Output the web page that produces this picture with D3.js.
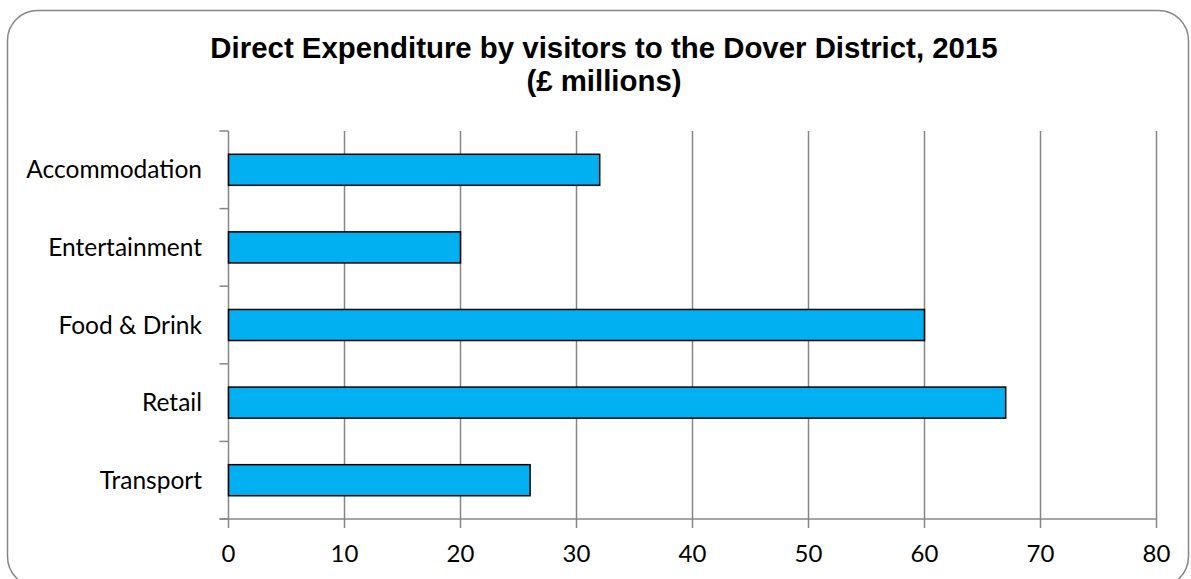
<!DOCTYPE html>
<html>
<head>
<meta charset="utf-8">
<script src="https://cdn.jsdelivr.net/npm/d3@7"></script>
<style>
  body { margin: 0; background: #fff; }
  svg { display: block; }
</style>
</head>
<body>
<div id="chart"></div>
<script>
// Direct Expenditure by visitors - horizontal bar chart
const categories = ["Accommodation", "Entertainment", "Food & Drink", "Retail", "Transport"];
const values = [32, 20, 60, 67, 26];
const xTicks = [0, 10, 20, 30, 40, 50, 60, 70, 80];
const titleLines = ["Direct Expenditure by visitors to the Dover District, 2015", "(£ millions)"];

const width = 1191;
const height = 579;
const margin = { top: 131, right: 34.5, bottom: 60, left: 228.5 };

const svg = d3.select("#chart")
  .append("svg")
  .attr("width", width)
  .attr("height", height);

// chart frame
svg.append("rect")
  .attr("x", 7.5)
  .attr("y", 10.5)
  .attr("width", 1181)
  .attr("height", 576)
  .attr("rx", 30)
  .attr("fill", "#fff")
  .attr("stroke", "#868686")
  .attr("stroke-width", 1.5);

svg.selectAll("text.title")
  .data(titleLines)
  .enter()
  .append("text")
  .attr("class", "title")
  .attr("x", 604)
  .attr("y", (d, i) => 58 + i * 33)
  .attr("text-anchor", "middle")
  .style("font-family", "Arial, 'Liberation Sans', sans-serif")
  .style("font-weight", "bold")
  .style("font-size", "29.4px")
  .text(d => d);

const x = d3.scaleLinear()
  .domain([0, 80])
  .range([margin.left, width - margin.right]);

const y = d3.scaleBand()
  .domain(categories)
  .range([margin.top, height - margin.bottom])
  .paddingInner(0.6)
  .paddingOuter(0.3);

const plotBottom = height - margin.bottom;

// vertical gridlines
svg.selectAll("line.grid")
  .data(xTicks.slice(1))
  .enter()
  .append("line")
  .attr("class", "grid")
  .attr("x1", d => x(d))
  .attr("x2", d => x(d))
  .attr("y1", margin.top)
  .attr("y2", plotBottom + 9)
  .attr("stroke", "#868686")
  .attr("stroke-width", 1.5);

// left axis line and category ticks
svg.append("line")
  .attr("x1", x(0)).attr("x2", x(0))
  .attr("y1", margin.top).attr("y2", plotBottom + 9)
  .attr("stroke", "#868686")
  .attr("stroke-width", 1.5);

const step = (plotBottom - margin.top) / categories.length;
svg.selectAll("line.ytick")
  .data(d3.range(categories.length + 1))
  .enter()
  .append("line")
  .attr("class", "ytick")
  .attr("x1", x(0) - 9)
  .attr("x2", x(0))
  .attr("y1", i => margin.top + i * step)
  .attr("y2", i => margin.top + i * step)
  .attr("stroke", "#868686")
  .attr("stroke-width", 1.5);

// bottom axis line
svg.append("line")
  .attr("x1", x(0) - 9).attr("x2", x(80))
  .attr("y1", plotBottom).attr("y2", plotBottom)
  .attr("stroke", "#868686")
  .attr("stroke-width", 1.5);

// bars
svg.selectAll("rect.bar")
  .data(categories)
  .enter()
  .append("rect")
  .attr("class", "bar")
  .attr("x", x(0))
  .attr("y", d => y(d))
  .attr("width", (d, i) => x(values[i]) - x(0))
  .attr("height", y.bandwidth())
  .attr("fill", "#00b0f0")
  .attr("stroke", "#000")
  .attr("stroke-width", 1.5);

// category labels
svg.selectAll("text.cat")
  .data(categories)
  .enter()
  .append("text")
  .attr("class", "cat")
  .attr("x", 202)
  .attr("y", d => y(d) + y.bandwidth() / 2)
  .attr("dy", "0.35em")
  .attr("text-anchor", "end")
  .style("font-family", "Lato, 'Open Sans', sans-serif")
  .style("font-size", "24.5px")
  .text(d => d);

// x tick labels
svg.selectAll("text.xt")
  .data(xTicks)
  .enter()
  .append("text")
  .attr("class", "xt")
  .attr("x", d => x(d))
  .attr("y", 562)
  .attr("text-anchor", "middle")
  .style("font-family", "Lato, 'Open Sans', sans-serif")
  .style("font-size", "24px")
  .text(d => d);
</script>
</body>
</html>
